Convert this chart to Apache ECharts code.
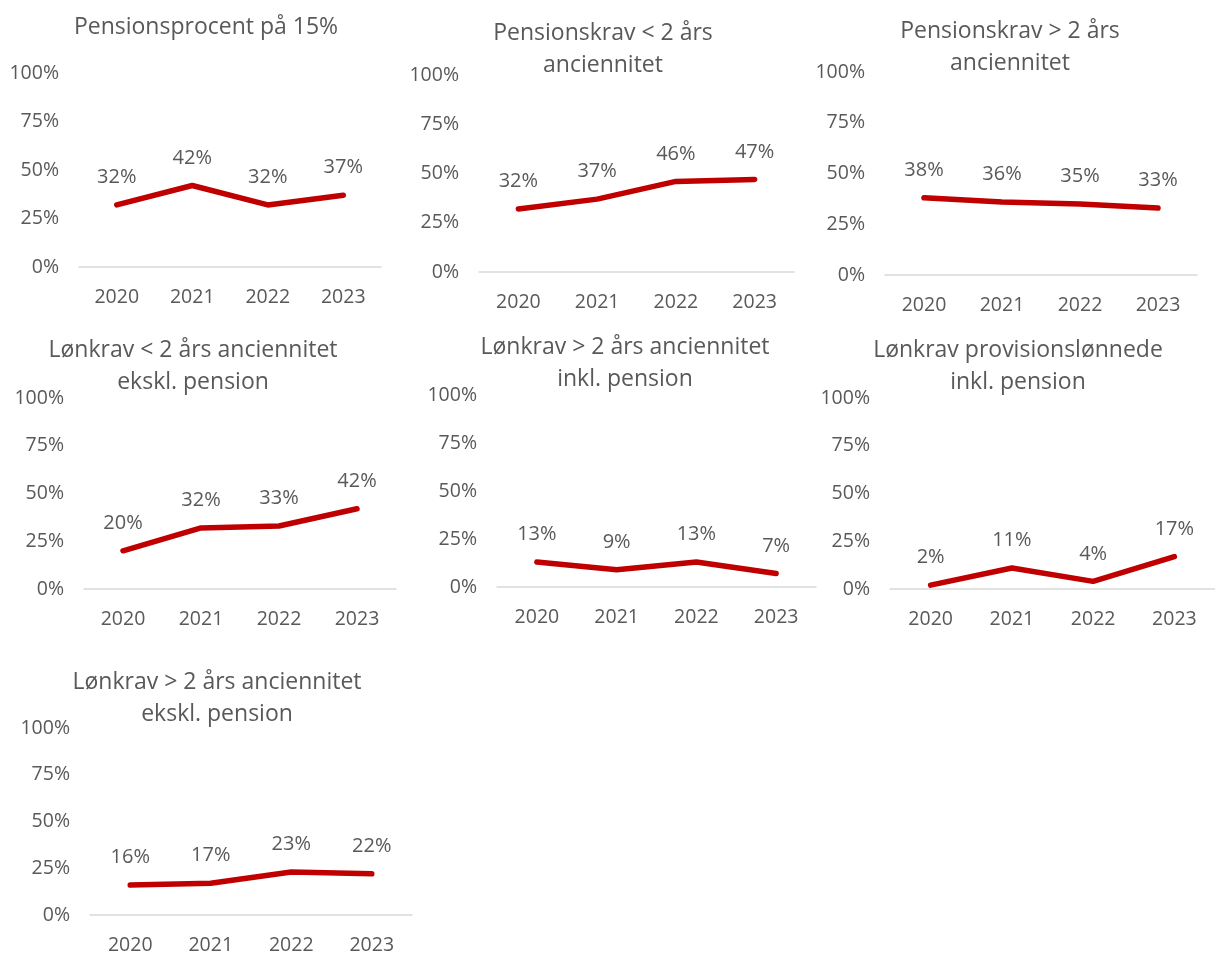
<!DOCTYPE html>
<html>
<head>
<meta charset="utf-8">
<script src="https://cdn.jsdelivr.net/npm/echarts@6/dist/echarts.min.js"></script>
<style>
  html, body { margin: 0; padding: 0; background: #fff; }
  #chart { width: 1215px; height: 955px; }
</style>
</head>
<body>
<div id="chart"></div>
<script>
const years = ["2020", "2021", "2022", "2023"];

const titles = [
  "Pensionsprocent på 15%",
  "Pensionskrav < 2 års\nanciennitet",
  "Pensionskrav > 2 års\nanciennitet",
  "Lønkrav < 2 års anciennitet\nekskl. pension",
  "Lønkrav > 2 års anciennitet\ninkl. pension",
  "Lønkrav provisionslønnede\ninkl. pension",
  "Lønkrav > 2 års anciennitet\nekskl. pension",
];

const pensionsprocent = [32, 42, 32, 37];
const pensionskravUnder2 = [32, 37, 46, 47];
const pensionskravOver2 = [38, 36, 35, 33];
const loenkravUnder2Ekskl = [20, 32, 33, 42];
const loenkravOver2Inkl = [13, 9, 13, 7];
const loenkravProvision = [2, 11, 4, 17];
const loenkravOver2Ekskl = [16, 17, 23, 22];

const seriesData = [
  pensionsprocent,
  pensionskravUnder2,
  pensionskravOver2,
  loenkravUnder2Ekskl,
  loenkravOver2Inkl,
  loenkravProvision,
  loenkravOver2Ekskl,
];

// panel layout: grid box + title centre / top
const panels = [
  { left: 79,  top: 73,  width: 302, height: 194, tx: 206,  ty: 11 },
  { left: 479, top: 75,  width: 315, height: 197, tx: 603,  ty: 17 },
  { left: 885, top: 72,  width: 312, height: 203, tx: 1010, ty: 15 },
  { left: 84,  top: 398, width: 312, height: 191, tx: 193,  ty: 334 },
  { left: 497, top: 395, width: 319, height: 192, tx: 625,  ty: 331 },
  { left: 890, top: 398, width: 335, height: 191, tx: 1018, ty: 334 },
  { left: 90,  top: 728, width: 322, height: 191, tx: 217,  ty: 666 },
];

const FONT = "'Open Sans', 'Liberation Sans', sans-serif";
const GREY = "#595959";
const RED = "#C00000";

const chart = echarts.init(document.getElementById("chart"), null, { renderer: "canvas" });

const option = {
  animation: false,
  backgroundColor: "#fff",
  title: panels.map((p, i) => ({
    text: titles[i],
    left: p.tx,
    top: p.ty,
    textAlign: "center",
    padding: 0,
    textStyle: {
      fontFamily: FONT,
      fontSize: 23,
      fontWeight: "normal",
      color: GREY,
      lineHeight: 32,
    },
  })),
  grid: panels.map((p) => ({
    left: p.left,
    top: p.top,
    width: p.width,
    height: p.height,
    containLabel: false,
  })),
  xAxis: panels.map((p, i) => ({
    type: "category",
    gridIndex: i,
    data: years,
    boundaryGap: true,
    axisLine: { show: true, lineStyle: { color: "#D9D9D9", width: 1.5 } },
    axisTick: { show: false },
    axisLabel: { color: GREY, fontFamily: FONT, fontSize: 19.5, margin: 20 },
  })),
  yAxis: panels.map((p, i) => ({
    type: "value",
    gridIndex: i,
    min: 0,
    max: 100,
    interval: 25,
    axisLine: { show: false },
    axisTick: { show: false },
    splitLine: { show: false },
    axisLabel: {
      color: GREY,
      fontFamily: FONT,
      fontSize: 19.5,
      margin: 20,
      formatter: "{value}%",
    },
  })),
  series: seriesData.map((d, i) => ({
    type: "line",
    xAxisIndex: i,
    yAxisIndex: i,
    data: d,
    symbol: "circle",
    symbolSize: 1,
    showSymbol: true,
    itemStyle: { color: RED },
    lineStyle: { color: RED, width: 5.5, cap: "round", join: "round" },
    label: {
      show: true,
      position: "top",
      distance: 17,
      color: GREY,
      fontFamily: FONT,
      fontSize: 20,
      formatter: "{c}%",
    },
  })),
};

chart.setOption(option);
</script>
</body>
</html>
